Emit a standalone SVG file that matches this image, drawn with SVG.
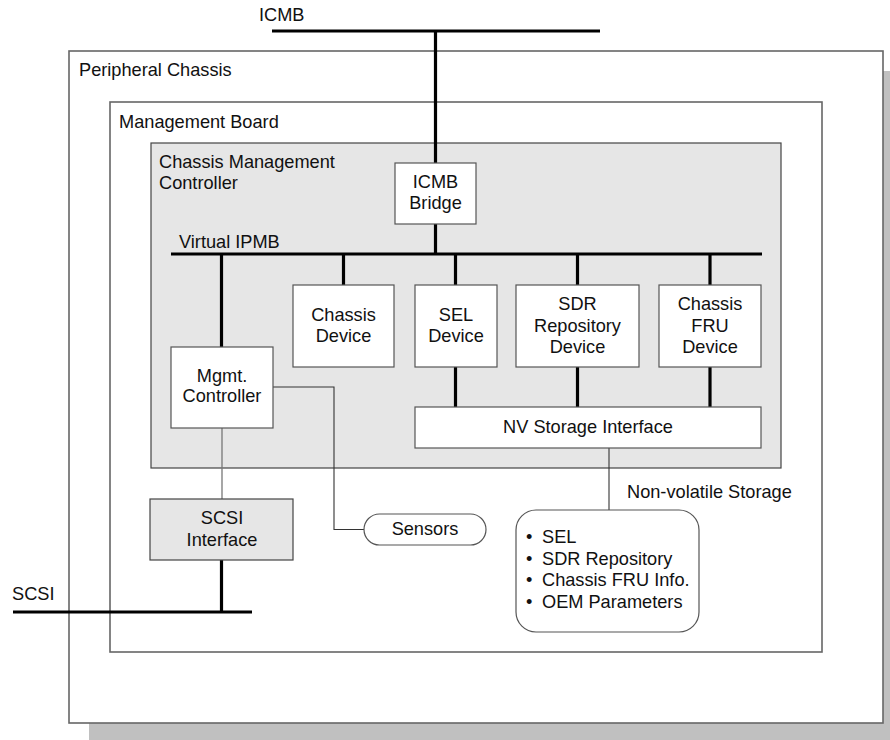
<svg xmlns="http://www.w3.org/2000/svg" width="890" height="740" viewBox="0 0 890 740">
<style>
text{font-family:"Liberation Sans",Arial,sans-serif;font-size:18.2px;fill:#111}
.c{text-anchor:middle}
.box{fill:#fff;stroke:#555;stroke-width:1.2}
.gbox{fill:#e6e6e6;stroke:#444;stroke-width:1.2}
.frame{fill:#fff;stroke:#666;stroke-width:1.6}
.bus{stroke:#000;stroke-width:3.2;fill:none}
.thin{stroke:#333;stroke-width:1.1;fill:none}
.thing{stroke:#777;stroke-width:1.3;fill:none}
</style>
<rect x="0" y="0" width="890" height="740" fill="#fff"/>
<rect x="89" y="71" width="801" height="669" fill="#c0c0c0"/>
<g id="peripheral-chassis">
<rect class="frame" x="69" y="51" width="814" height="672"/>
<text x="79" y="76">Peripheral Chassis</text>
</g>
<g id="management-board">
<rect class="frame" x="110" y="102" width="712" height="550"/>
<text x="119" y="128">Management Board</text>
</g>
<g id="cmc">
<rect class="gbox" x="151" y="143" width="630" height="325" stroke="#333"/>
<text x="159" y="168">Chassis Management</text>
<text x="159" y="189">Controller</text>
<text x="179" y="248">Virtual IPMB</text>
</g>
<g id="connectors">
<line class="bus" x1="272" y1="31" x2="600" y2="31"/>
<line class="bus" x1="435.5" y1="31" x2="435.5" y2="163"/>
<line class="bus" x1="435.5" y1="224" x2="435.5" y2="254"/>
<line class="bus" x1="171" y1="254" x2="762" y2="254"/>
<line class="bus" x1="221.5" y1="254" x2="221.5" y2="347"/>
<line class="bus" x1="343.5" y1="254" x2="343.5" y2="285"/>
<line class="bus" x1="455.5" y1="254" x2="455.5" y2="285"/>
<line class="bus" x1="577.5" y1="254" x2="577.5" y2="285"/>
<line class="bus" x1="710" y1="254" x2="710" y2="285"/>
<line class="bus" x1="455.5" y1="367" x2="455.5" y2="407"/>
<line class="bus" x1="577.5" y1="367" x2="577.5" y2="407"/>
<line class="bus" x1="710" y1="367" x2="710" y2="407"/>
<line class="thin" x1="609" y1="448" x2="609" y2="510"/>
<polyline class="thin" points="273,387 334,387 334,529.5 364,529.5"/>
<line class="thing" x1="222" y1="428" x2="222" y2="499"/>
<line class="bus" x1="221.5" y1="560" x2="221.5" y2="612"/>
<line class="bus" x1="13" y1="612" x2="252" y2="612"/>
</g>
<g id="icmb-label"><text x="259" y="21">ICMB</text></g>
<g id="scsi-label"><text x="12" y="600">SCSI</text></g>
<g id="icmb-bridge">
<rect class="box" x="395" y="163" width="81" height="61"/>
<text class="c" x="435.5" y="188">ICMB</text>
<text class="c" x="435.5" y="208.5">Bridge</text>
</g>
<g id="chassis-device">
<rect class="box" x="293" y="285" width="101" height="82"/>
<text class="c" x="343.5" y="321">Chassis</text>
<text class="c" x="343.5" y="341.5">Device</text>
</g>
<g id="sel-device">
<rect class="box" x="415" y="285" width="82" height="82"/>
<text class="c" x="456" y="321">SEL</text>
<text class="c" x="456" y="341.5">Device</text>
</g>
<g id="sdr-device">
<rect class="box" x="516" y="285" width="123" height="82"/>
<text class="c" x="577.5" y="310">SDR</text>
<text class="c" x="577.5" y="331.5">Repository</text>
<text class="c" x="577.5" y="352.5">Device</text>
</g>
<g id="fru-device">
<rect class="box" x="659" y="285" width="102" height="82"/>
<text class="c" x="710" y="310">Chassis</text>
<text class="c" x="710" y="331.5">FRU</text>
<text class="c" x="710" y="352.5">Device</text>
</g>
<g id="mgmt-controller">
<rect class="box" x="171" y="347" width="102" height="81"/>
<text class="c" x="222" y="381.5">Mgmt.</text>
<text class="c" x="222" y="402">Controller</text>
</g>
<g id="nv-storage-interface">
<rect class="box" x="415" y="407" width="346" height="41"/>
<text class="c" x="588" y="432.5">NV Storage Interface</text>
</g>
<g id="scsi-interface">
<rect class="gbox" x="150" y="499" width="143" height="61"/>
<text class="c" x="222" y="523.5">SCSI</text>
<text class="c" x="222" y="545.5">Interface</text>
</g>
<g id="sensors">
<rect class="box" x="364" y="514" width="122" height="31" rx="15.5" ry="15.5" stroke="#333"/>
<text class="c" x="425" y="535">Sensors</text>
</g>
<g id="non-volatile-storage">
<text x="627" y="498">Non-volatile Storage</text>
<rect class="box" x="516" y="510" width="183" height="122" rx="20" ry="20" stroke="#333"/>
<text x="526" y="543">•</text><text x="542" y="543">SEL</text>
<text x="526" y="564.5">•</text><text x="542" y="564.5">SDR Repository</text>
<text x="526" y="586">•</text><text x="542" y="586">Chassis FRU Info.</text>
<text x="526" y="607.5">•</text><text x="542" y="607.5">OEM Parameters</text>
</g>
</svg>
